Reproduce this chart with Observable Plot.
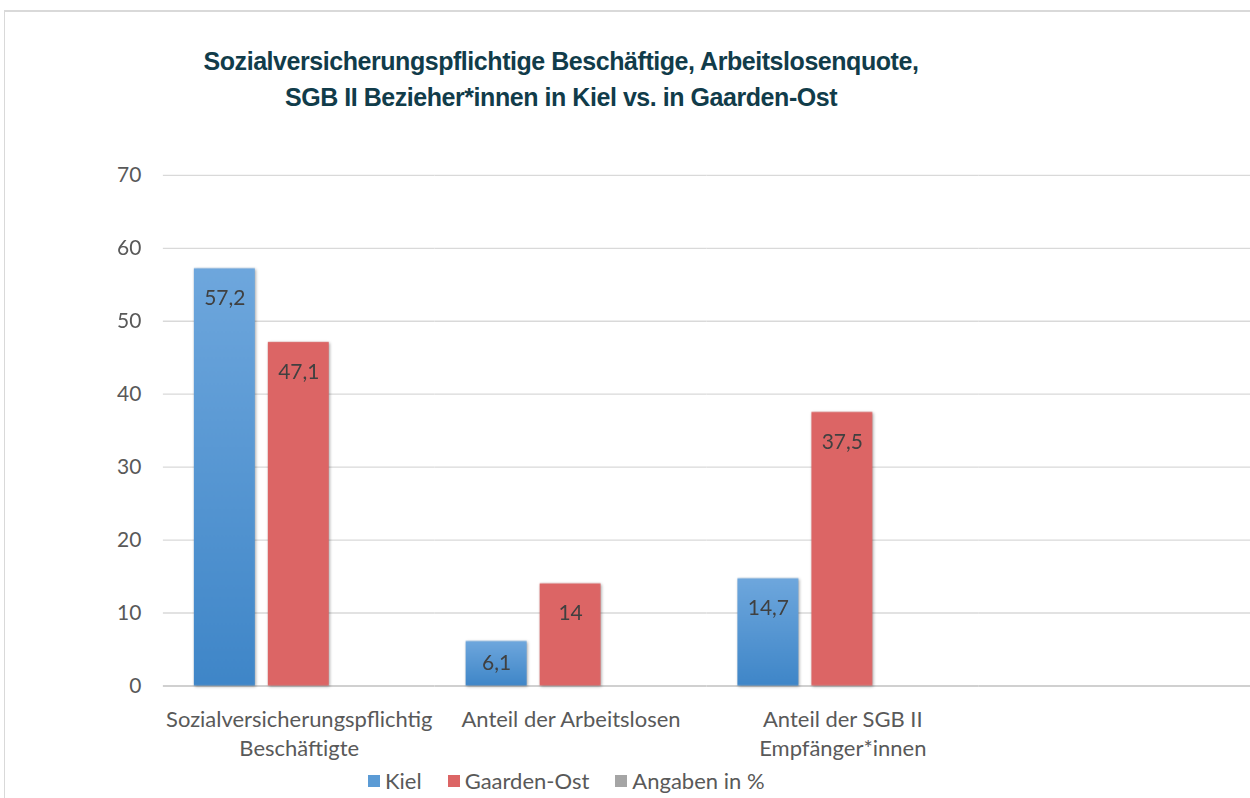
<!DOCTYPE html>
<html>
<head>
<meta charset="utf-8">
<script src="https://cdn.jsdelivr.net/npm/d3@7"></script>
<script src="https://cdn.jsdelivr.net/npm/@observablehq/plot@0.6"></script>
<style>
  html, body { margin: 0; padding: 0; background: #fff; }
  #wrap { position: relative; width: 1250px; height: 798px; overflow: hidden; font-family: Lato, "Liberation Sans", sans-serif; }
  #frame { position: absolute; left: 4px; top: 10px; width: 1400px; height: 900px; border-top: 2px solid #d9d9d9; border-left: 1px solid #d9d9d9; }
  #title { position: absolute; left: 0; top: 43px; width: 1122px; text-align: center; font-family: "Liberation Sans", sans-serif; font-weight: bold; font-size: 25px; letter-spacing: -0.45px; line-height: 36px; color: #113c4a; }
  #chart { position: absolute; left: 0; top: 0; }
  #legend { position: absolute; top: 768px; left: 368px; display: flex; font-size: 22px; color: #595959; line-height: 26px; }
  #legend .item { display: flex; align-items: center; margin-right: 26px; }
  #legend .sw { width: 12px; height: 12px; margin-right: 5px; }
</style>
</head>
<body>
<div id="wrap">
  <div id="frame"></div>
  <div id="title">Sozialversicherungspflichtige Beschäftige, Arbeitslosenquote,<br>SGB II Bezieher*innen in Kiel vs. in Gaarden-Ost</div>
  <div id="chart"></div>
  <div id="legend"></div>
</div>
<script>
const categories = ["Sozialversicherungspflichtig\nBeschäftigte", "Anteil der Arbeitslosen", "Anteil der SGB II\nEmpfänger*innen", " "];
const series = ["Kiel", "Gaarden-Ost", "Angaben in %"];
const kielValues = [57.2, 6.1, 14.7];
const gaardenValues = [47.1, 14, 37.5];
const yTicks = [0, 10, 20, 30, 40, 50, 60, 70];
const seriesColors = ["url(#kielGrad)", "#dc6565", "#a5a5a5"];
const legendColors = ["#5b9bd5", "#dc6565", "#a5a5a5"];

const data = [];
kielValues.forEach((v, i) => data.push({cat: categories[i], series: "Kiel", value: v}));
gaardenValues.forEach((v, i) => data.push({cat: categories[i], series: "Gaarden-Ost", value: v}));

// gridlines in every category band (so the empty fourth band is kept)
const grid = [];
categories.forEach(c => yTicks.forEach(t => grid.push({cat: c, tick: t})));

const fmt = v => String(v).replace(".", ",");

const plot = Plot.plot({
  width: 1251,
  height: 798,
  marginTop: 175,
  marginBottom: 112,
  marginLeft: 163,
  marginRight: 0,
  style: {fontFamily: 'Lato, "Liberation Sans", sans-serif', fontSize: "22px", color: "#595959", background: "transparent"},
  fx: {domain: categories, padding: 0, axis: null},
  x: {domain: series, paddingInner: 0.173, paddingOuter: 0.4, axis: null},
  y: {domain: [0, 70], ticks: yTicks, tickSize: 0, tickPadding: 22, label: null, grid: false},
  color: {domain: series, range: seriesColors},
  marks: [
    Plot.ruleY(grid.filter(g => g.tick > 0), {fx: "cat", y: "tick", stroke: "#d9d9d9", strokeWidth: 1.3}),
    Plot.ruleY(grid.filter(g => g.tick === 0), {fx: "cat", y: "tick", stroke: "#d0d0d0", strokeWidth: 2}),
    Plot.barY(data, {fx: "cat", x: "series", y: "value", fill: "series"}),
    Plot.text(data, {fx: "cat", x: "series", y: d => Math.max(d.value - 4.1, d.value / 2), text: d => fmt(d.value), fill: "#404040", fontSize: 21}),
    Plot.text(categories.slice(0, 3), {fx: d => d, text: d => d, frameAnchor: "bottom", lineAnchor: "top", dy: 20, lineHeight: 1.32, fill: "#595959", fontSize: 22}),
    Plot.axisY({ticks: yTicks, tickSize: 0, tickPadding: 22, fill: "#595959", fontSize: 21, label: null})
  ]
});

// gradient for Kiel bars
const svg = d3.select(plot);
const defs = svg.insert("defs", ":first-child");
const grad = defs.append("linearGradient").attr("id", "kielGrad").attr("x1", 0).attr("y1", 0).attr("x2", 0).attr("y2", 1);
grad.append("stop").attr("offset", "0%").attr("stop-color", "#6ea7dd");
grad.append("stop").attr("offset", "100%").attr("stop-color", "#3f86c8");
svg.selectAll("g[aria-label=bar]").style("filter", "drop-shadow(1px 1px 1.5px rgba(0,0,0,0.35))");

document.getElementById("chart").appendChild(plot);

const legend = d3.select("#legend");
series.forEach((s, i) => {
  const it = legend.append("div").attr("class", "item");
  it.append("div").attr("class", "sw").style("background", legendColors[i]);
  it.append("span").text(s);
});
</script>
</body>
</html>
